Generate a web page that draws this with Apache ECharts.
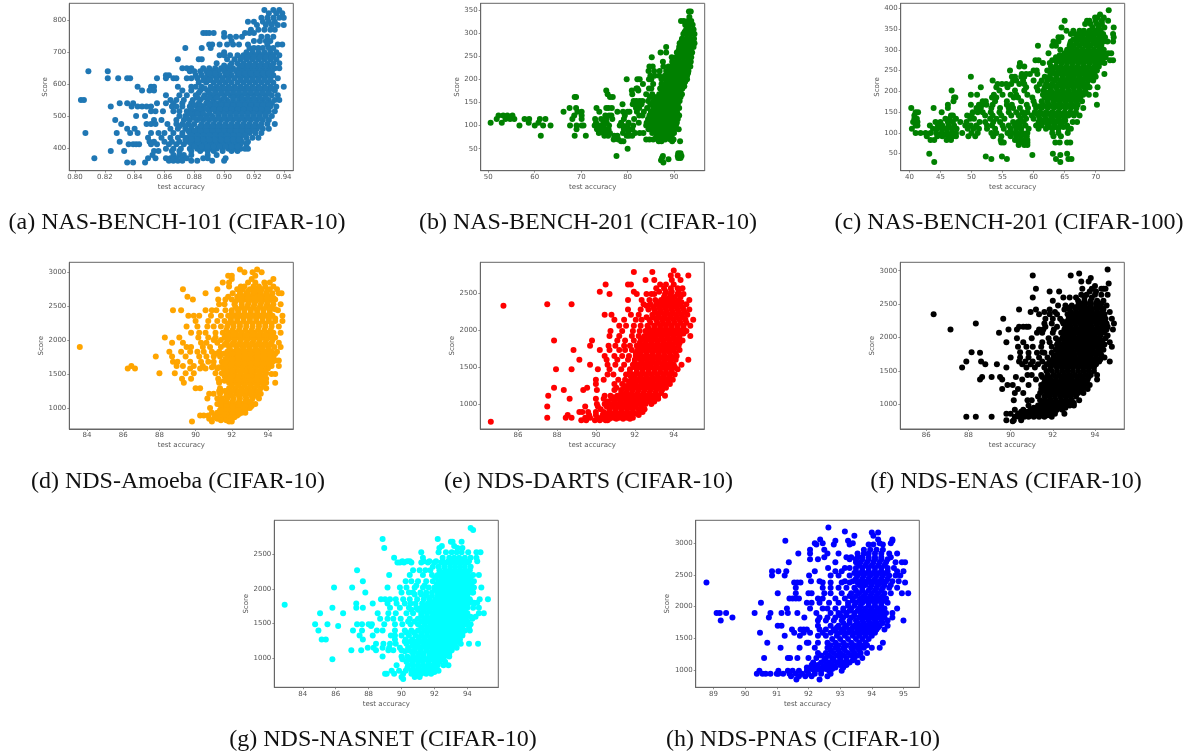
<!DOCTYPE html>
<html><head><meta charset="utf-8">
<script src="https://cdn.jsdelivr.net/npm/echarts@6/dist/echarts.min.js"></script>
<style>html,body{margin:0;padding:0;background:#fff}#c{width:1192px;height:752px}</style></head>
<body><div id="c"></div>
<script>
// each row: [score, accuracy, accuracy, ...]
const rowsA=[[832,.927,.933,.937],[822,.93,.935,.939],[808,.925,.929,.933,.937,.94],[795,.916,.92,.926,.93,.934],[785,.922,.928,.932,.936,.94],[770,.918,.923,.927,.931,.934],[760,.886,.888,.89,.893,.9,.914,.917,.92],[748,.9,.904,.908,.912,.925,.929,.933],[735,.905,.92,.924,.928,.931],[724,.89,.892,.897,.902,.906,.91,.916,.929,.936,.939],[713,.874,.885,.891,.917,.92,.923,.926,.93,.933],[700,.9,.915,.919,.923,.927,.931,.935],[690,.897,.9,.904,.909,.913,.917,.921,.925,.929,.933,.937],[678,.869,.883,.885,.902,.907,.911,.915,.919,.923,.927,.931,.935],[665,.895,.905,.909,.913,.917,.921,.925,.929,.933,.937],[650,.872,.875,.878,.886,.89,.894,.898,.902,.906,.91,.914,.918,.922,.926,.93,.934,.937],[640,.809,.822,.877,.88,.884,.888,.892,.896,.9,.904,.908,.912,.916,.92,.924,.928,.932],[628,.861,.863,.881,.885,.889,.893,.897,.901,.905,.909,.913,.917,.921,.925,.929,.933],[618,.822,.829,.835,.837,.855,.861,.866,.868,.875,.878,.882,.887,.891,.895,.899,.903,.907,.911,.915,.919,.923,.927,.931,.936],[605,.883,.888,.893,.897,.901,.905,.909,.913,.917,.921,.925,.929,.933],[592,.842,.851,.853,.869,.878,.881,.885,.891,.895,.899,.903,.907,.911,.915,.919,.923,.927,.931,.935,.94],[580,.845,.85,.853,.872,.878,.884,.889,.894,.898,.902,.906,.91,.914,.918,.922,.926,.93,.934],[565,.861,.87,.875,.881,.887,.892,.896,.9,.904,.908,.912,.916,.92,.924,.928,.932,.936],[550,.804,.806,.864,.868,.873,.879,.884,.889,.893,.898,.902,.906,.91,.914,.918,.922,.926,.93,.934,.937],[540,.83,.835,.839,.855,.861,.866,.872,.878,.883,.888,.892,.896,.9,.904,.908,.912,.916,.92,.924,.928,.932],[530,.824,.838,.842,.845,.848,.851,.865,.868,.872,.877,.882,.886,.891,.895,.899,.903,.907,.911,.915,.919,.923,.927,.931,.935],[515,.851,.854,.859,.866,.87,.875,.88,.885,.89,.894,.898,.902,.906,.91,.914,.918,.922,.926,.93,.934],[500,.841,.847,.87,.874,.879,.884,.888,.892,.896,.9,.904,.908,.912,.916,.92,.924,.928,.932],[488,.827,.853,.858,.868,.873,.877,.882,.886,.89,.894,.898,.902,.906,.91,.914,.918,.922,.926,.93],[475,.831,.848,.851,.854,.862,.868,.872,.876,.88,.885,.889,.893,.897,.901,.905,.909,.913,.917,.921,.925,.929,.934],[460,.835,.84,.864,.869,.874,.878,.882,.886,.89,.894,.898,.902,.906,.91,.914,.918,.922,.926,.93],[447,.807,.828,.837,.842,.851,.856,.86,.866,.872,.877,.881,.885,.889,.893,.897,.901,.905,.909,.913,.917,.921,.925],[432,.849,.858,.864,.869,.875,.879,.883,.887,.891,.895,.899,.903,.907,.911,.915,.919,.923],[420,.83,.85,.853,.86,.865,.87,.876,.88,.884,.888,.892,.896,.9,.904,.908,.912,.916],[412,.836,.839,.841,.843,.851,.855,.863,.868,.873,.878,.883,.887,.891,.895,.899,.903,.907,.911,.915],[398,.861,.866,.871,.877,.882,.886,.89,.895,.899,.903,.907,.911,.914,.916],[391,.824,.833,.853,.856,.865,.87,.878,.884,.889,.893,.899,.905,.909],[378,.852,.866,.87,.873,.878,.889,.895],[368,.813,.849,.854,.861,.864,.868,.872,.875,.886,.889,.901],[360,.863,.866,.869,.872,.878,.882,.892,.9],[355,.835,.839,.847],
[684,.912,.916,.92,.924,.928,.932],[658,.9,.904,.912,.916,.92,.924,.928,.932],[634,.89,.894,.902,.91,.914,.918,.922,.926,.93],[612,.886,.89,.895,.899,.903,.911,.915,.919,.923,.927,.931],[586,.887,.892,.897,.9,.904,.908,.912,.916,.92,.924,.928,.932],[572,.883,.89,.894,.898,.902,.906,.91,.914,.918,.922,.926,.93],[557,.882,.886,.89,.895,.9,.906,.91,.912,.916,.92,.924,.928],[535,.88,.884,.89,.894,.898,.902,.906,.91,.914,.918,.922,.926,.93],[522,.878,.883,.888,.893,.897,.901,.905,.909,.913,.917,.921,.925,.929],[507,.877,.882,.886,.89,.896,.9,.904,.908,.912,.916,.92,.924,.928],[494,.875,.88,.884,.888,.892,.896,.9,.904,.908,.912,.916,.92,.924],[468,.87,.874,.878,.884,.888,.892,.896,.9,.904,.908,.912,.916,.92,.924],[453,.876,.88,.884,.888,.892,.896,.9,.904,.908,.912,.916,.92],[440,.872,.878,.882,.886,.89,.894,.898,.902,.906,.91,.914],[426,.874,.878,.882,.886,.89,.894,.898,.902,.906,.91],[405,.88,.885,.889,.893,.897,.901,.905,.909]];
const rowsB=[[347,93.2,93.6],[335,93.3],[326,91.5,92.1,93,93.7],[318,92.4,93.2,94],[308,92.6,93.3,94.2],[298,92,92.9,93.7,94.4],[288,91.7,92.6,93.4,94.3],[278,91.2,92.1,93,93.8,94.4],[270,88.3,91.1,92,92.8,93.6,94.2],[258,87.1,88.3,90.6,91.4,92.3,93.1,93.9],[248,85.2,89.5,90.5,91.3,92.1,92.9,93.7],[238,87.6,89.6,90.4,91.2,92,92.8,93.6],[228,84.7,85.4,87.7,88.8,89.6,90.4,91.2,92,92.8,93.5],[218,84.5,85.7,86.9,88.3,89,89.9,90.7,91.5,92.3,93.1],[208,84.9,85.8,86.8,88,88.8,89.6,90.4,91.2,92,92.8],[200,79.8,82.1,82.6,84.6,85.1,87.3,88.1,88.9,89.7,90.5,91.3,92.1,92.8],[190,83.3,85.5,87.3,88.1,88.9,89.7,90.5,91.3,92.1],[180,81.9,82.1,84.6,85.1,87,87.8,88.6,89.4,90.2,91,91.8],[176,75.4,80.9,82.3],[168,75.7,81,84,85.3,86.8,87.7,88.5,89.3,90.1,90.9,91.7],[162,68.6,68.9,76.2,76.8,84.8,85.8,86.6,87.4,88.2,89,89.8,90.6,91.4],[153,81.3,81.9,82.6,83.2,84.4,85.6,86.4,87.2,88,88.8,89.6,90.4,91.2],[146,78.9,81.1,82,83,84.9,86,86.8,87.6,88.4,89.2,90,90.8],[138,67.5,68.9,73.3,75.4,75.9,76.6,81.8,82.5,84.2,85.5,86.3,87.1,87.9,88.7,89.5,90.3,91.1],[130,66.2,69.2,70.1,73.9,77.8,79,80,80.4,82,83.5,85,85.8,86.6,87.4,88.2,89,89.8,90.6],[122,52.2,53.2,54.1,55.2,68.5,70.1,75.2,76,76.5,79.4,82.5,83.2,84.7,85.5,86.3,87.1,87.9,88.7,89.5,90.3,91.1],[114,51.8,53.7,54.7,55.6,57.8,58.8,61.1,62.3,68.1,70.1,73,74.3,75.4,76.7,79.2,81.4,84.4,85.2,86,86.8,87.6,88.4,89.2,90,90.8],[106,50.5,52.9,58.7,60.8,73.2,74.8,75.5,78.6,80.2,82.4,84.1,85,85.8,86.6,87.4,88.2,89,89.8,90.6],[100,56.7,60,61.8,63.4,67.6,69,70.1,70.5,72.9,74,74.8,76,78.3,78.9,80,81.2,84,84.8,85.6,86.4,87.2,88,88.8,89.6,90.4],[92,69,73.4,74.1,75.2,75.9,79.2,80,81,84.5,85.3,86.1,86.9,87.7,88.5,89.3,90.1,91],[84,73.8,74.8,75.6,76.2,79,80.2,81.6,82.6,83.4,85.3,86.1,86.9,87.7,88.5,89.3,90],[78,61.3,68.6,71,75,75.8,77.1,77.8,79.8,80.3,81,86.3,87.1,87.9,88.7,89.5],[70,77,78,84,84.7,85.5,86.5,87.3,88.1,89.2,89.9],[66,78.6,79.1,86.7,87.3,89.6,91.3],[50,80],[40,90.9,91.4],[34,77.6,87.6,90.8,91.2,91.6],[30,87.4,90.9,91.4],[27,88.8],[25,87.2],[20,87.7],
[303,92.3,93.2,94],[283,91.6,92.5,93.4,94.1],[263,91,91.9,92.7,93.5],[253,90.9,91.7,92.5,93.3],[233,90,90.8,91.6,92.4,93.2],[223,89.5,90.3,91.1,91.9,92.7],[213,89.2,90,90.8,91.6,92.4,93],[195,88.5,89.3,90.1,90.9,91.7,92.4],[185,88.2,89,89.8,90.6,91.4,92.2],[172,87.4,88.2,89,89.8,90.6,91.4],[158,87,87.8,88.6,89.4,90.2,91],[142,86.4,87.2,88,88.8,89.6,90.4],[126,85.9,86.7,87.5,88.3,89.1,89.9,90.7],[118,85.6,86.4,87.2,88,88.8,89.6,90.4],[110,85.4,86.2,87,87.8,88.6,89.4,90.2],[96,85,85.9,86.7,87.5,88.3,89.1,89.9],[88,85.7,86.5,87.3,88.1,88.9,89.7],[74,86.1,86.9,87.8,88.6]];
const rowsC=[[395,72.1],[385,70.7],[378,69.9,70.3,71.3],[370,65,68.6,69,70,71,72],[362,68.3,69.2,70.2,71],[354,64.5,69.5,70.5,71.4,72.9],[346,65.3,66.4,67.4,68.1,69,69.9,70.8],[338,66,66.7,67.6,68.5,69.4,70.3,71.2,72.8],[330,64,64.5,67,67.9,68.8,69.7,70.6,71.5,72.9],[320,63.2,64,66,66.9,67.8,68.7,69.6,70.5,71.3,71.9,72.8],[310,60.7,63,63.6,65.8,66.5,67.4,68.3,69.2,70.1,70.9],[300,64.3,65.4,66.2,67,67.9,68.8,69.7,70.6,71.3],[292,62.4,65,65.9,66.7,67.6,68.5,69.4,70.3,71.2,72,72.5],[282,63.6,64.6,65.4,66.3,67.2,68.1,69,69.9,70.8,71.6],[275,60.3,60.8,63,64.1,65,65.9,66.8,67.7,68.6,69.5,70.4,71,72.3,72.8],[268,57.8,61.5,62.6,64.5,65.4,66.3,67.2,68.1,69,69.9,70.6,71.4],[260,57.7,58.5,62.8,63.6,64.4,65.3,66.2,67.1,68,68.9,69.8,70.5],[250,56.2,60,60.5,62.2,63,64,64.9,65.8,66.7,67.6,68.5,69.4,70.2],[242,58.1,58.8,59.4,60.6,62.7,63.5,64.5,65.4,66.3,67.2,68.1,69,69.8,71.4],[235,49.9,56.5,57,58,58.5,61.8,62.6,63.7,64.7,65.6,66.5,67.4,68.3,69.2,70],[226,53.4,56.7,57.2,58.3,60,61.3,62.2,63.4,64.3,65.2,66.1,67,67.9,68.8,69.6],[218,54.2,54.9,55.6,56.4,57.7,58.5,61,62,63,64,64.9,65.8,66.7,67.6,68.5],[210,51.5,54,55.8,58.8,60.5,61.8,62.6,63.6,64.6,65.5,66.4,67.3,68.2,69,70.3],[202,46.8,54.5,57,58.5,60.7,61.6,62.8,63.8,64.7,65.6,66.5,67.4,68.3],[192,49.9,50.9,53.6,55,56.3,57.2,59,61.5,62.5,63.4,64.4,65.3,66.2,67.1,68,68.9,70],[185,47.2,47.4,53.3,54,56.8,57.5,59.8,61.8,62.9,63.9,64.8,65.7,66.6,67.5],[176,47.1,51.8,52.3,53.8,55.7,58,60,61.3,62.2,63.2,64.2,65.1,66,66.9,67.8],[168,46.2,49.9,51.2,51.7,52.4,53.4,55.7,56.5,58.9,60.2,61.5,62.5,63.5,64.4,65.3,66.2,67.1,70.2],[160,40.3,43.9,46.2,50.8,51.5,53.2,54.6,56,56.7,57.8,59.1,60.4,61.3,62.3,63.3,64.2,65.1,66,66.9,68],[150,41,41.4,45.2,50.2,51,51.8,53.1,54.5,56,57.2,58.2,59,60.2,61,62,63,64,65,65.9,66.8],[142,40.8,46.7,47,49.3,50,52.2,53.4,54.8,56.4,57.6,58.5,59.7,60.8,61.8,62.8,63.7,64.7,65.6,66.5,67.4],[134,40.8,41.2,45.8,46.5,47.5,49.8,50.4,53,54,55.3,57.9,58.8,60,61,62,63,64,65],[126,40.6,41.3,44.2,45,46.2,47,48.2,49.2,51.3,52.2,53.5,54.6,56.7,57.5,58.4,60.8,61.8,62.7,63.7,64.7,66.3,67],[118,41,41.3,43.3,44.6,45.3,46.3,47.2,49,49.9,50.8,52.5,53.3,55,56,57,57.8,58.7,60.4,61.3,62.3,63.3,64.3,65.4],[110,40.4,43.8,44.5,45.3,46,46.8,47.6,49.4,50.3,51.2,52.5,53.8,55.2,56.3,57.2,58,59.2,60.8,62,63,64,65.6,66],[100,41,41.8,42.6,43.4,44.3,45.2,46,46.8,47.5,48.5,50,51,53.2,54,55.8,56.6,57.4,58.2,59,63,64,65.5],[92,42.8,44.5,45.3,46.2,47,47.5,49.5,50.6,53.5,54.8,56.3,57.2,58,58.9,63.2,64.4],[83,43.4,44,46,46.7,54.7,57,57.8,58.6,59],[77,54.8,55.2,57.6,58.2,59,63.5,64.2,65.4,65.9],[71,57.6,58.5,59],[50,43.2,63.1,65.4],[47,59.8,64.3],[43,52.3,54.9],[37,53.2,55.7,63.6,65.6,66.1],[30,44,64.3],
[342,68,68.9,69.8,70.7],[325,66.4,67.3,68.2,69.1,70,70.9],[315,65.9,66.9,67.8,68.7,69.6,70.5],[296,65.4,66.3,67.2,68.1,69,69.9,70.8],[287,64.2,65.1,66,66.9,67.8,68.7,69.6,70.5],[271,63.7,64.6,65.5,66.4,67.3,68.2,69.1,70],[255,63.2,64.1,65,65.9,66.8,67.7,68.6,69.5],[246,63.9,64.8,65.7,66.6,67.5,68.4,69.3],[230,62.8,63.6,64.6,65.5,66.4,67.3,68.2,69.1],[214,62.3,63.2,64.2,65.1,66,66.9,67.8,68.7],[197,62.1,63,63.9,64.8,65.7,66.6,67.5,68.4],[180,62.3,63.4,64.3,65.2,66.1,67],[164,61,62,63,63.9,64.8,65.7,66.6],[146,60.5,61.4,62.4,63.4,64.3,65.2,66.1],[130,61.3,62.3,63.2,64.2,65.1],[114,62.5,63.5,64.8]];
const rowsD=[[3040,92.45,93.4],[3000,92.7,93.15,93.65],[2950,91.8,92,93.3],[2900,92,93.1,94.3],[2850,91.5,91.85,92.9,93.3,93.8,94.1],[2790,91.85,92.5,92.7,93.2,93.5,93.85,94.3],[2750,89.3,91.2,92.3,92.6,93,93.35,93.65,94.1,94.5],[2690,90.55,92.05,92.45,92.8,93.2,93.55,93.9,94.25,94.6,94.75],[2640,89.55,91.8,92.3,92.7,93.05,93.4,93.75,94.1],[2600,89.85,91.25,91.65,92,92.4,92.75,93.1,93.45,93.8,94.15,94.4],[2530,91.3,91.6,92.15,92.55,92.9,93.25,93.6,93.95,94.3,94.7],[2440,88.75,89.2,90.55,90.9,91.15,91.65,92,92.35,92.7,93.05,93.4,93.75,94.1,94.55],[2360,89.6,89.9,90.2,90.85,91.4,91.8,92.15,92.5,92.85,93.2,93.55,93.9,94.25,94.8],[2280,90,90.7,91.2,91.6,91.95,92.3,92.65,93,93.35,93.7,94.05,94.4,94.8],[2200,89.5,90.1,90.65,91,91.4,91.75,92.1,92.45,92.8,93.15,93.5,93.85,94.2,94.6],[2110,89.75,90.2,90.55,91.1,91.5,91.85,92.2,92.55,92.9,93.25,93.6,93.95,94.3,94.7],[2040,88.3,89.1,90.15,90.7,91.1,91.6,91.95,92.3,92.65,93,93.35,93.7,94.05,94.4],[1960,88.7,89.3,90.3,90.6,91.2,91.7,92.1,92.45,92.8,93.15,93.5,93.85,94.2,94.6],[1900,83.6,89.5,89.75,90.4,90.8,91.4,91.85,92.25,92.6,92.95,93.3,93.65,94,94.35,94.7],[1830,88.55,89.2,89.7,90.1,90.45,90.9,91.3,91.75,92.1,92.45,92.8,93.15,93.5,93.85,94.2,94.5],[1760,87.8,88.7,89.45,90.2,90.6,91,91.35,91.8,92.2,92.55,92.9,93.25,93.6,93.95,94.3],[1680,88.75,89,89.7,90.3,90.7,91,91.45,91.85,92.2,92.55,92.9,93.25,93.6,93.95,94.25],[1620,86.45,88.95,89.3,89.9,90.4,91,91.5,91.8,92.15,92.5,92.85,93.2,93.55,93.9,94.2,94.6],[1580,86.25,86.65,89.7,90.25,90.55,91.2,91.55,91.9,92.25,92.6,92.95,93.3,93.65,94],[1510,88,88.85,89.45,89.9,91.1,91.45,91.8,92.15,92.5,92.85,93.2,93.55,93.9],[1430,89.25,89.75,91.25,91.8,92.15,92.5,92.85,93.2,93.55,93.9],[1370,89.35,91.3,91.85,92.2,92.55,92.9,93.25,93.6,93.9,94.4],[1290,90,90.25,91.35,91.85,92.2,92.55,92.9,93.25,93.6,93.9],[1210,90.75,91,91.35,91.9,92.25,92.6,92.95,93.3,93.6],[1140,90.65,91.2,91.45,91.75,92.1,92.45,92.8,93.15,93.5],[1060,91.2,91.55,91.9,92.25,92.6,92.95,93.3],[1000,90.8,91.5,91.85,92.2,92.55,92.85,93],[930,90.9,91.2,91.55,91.9,92.25,92.55,92.75],[890,90.25,90.45,90.7,91.1,91.45,91.8,92.1,92.3],[840,90.75,91.2,91.5,91.8,92],[800,89.8,90.9,91.85,92],
[2670,92.5,92.9,93.25,93.6,93.95],[2570,92.2,92.55,92.95,93.3,93.65,94],[2490,92.2,92.55,92.85,93.2,93.55,93.9,94.2],[2400,92,92.35,92.7,93.05,93.4,93.75,94.1],[2320,91.95,92.3,92.65,93,93.35,93.7,94.05,94.4],[2240,91.8,92.1,92.45,92.8,93.15,93.5,93.85,94.2],[2150,91.7,92.05,92.4,92.75,93.1,93.45,93.8,94.15],[2075,91.75,92.1,92.45,92.8,93.15,93.5,93.85,94.2],[2000,91.8,92.15,92.5,92.85,93.2,93.55,93.9,94.25],[1930,91.6,92,92.35,92.7,93.05,93.4,93.75,94.1],[1865,91.9,92.3,92.65,93,93.35,93.7,94.05],[1795,92,92.35,92.7,93.05,93.4,93.75,94.1],[1720,91.65,92,92.35,92.7,93.05,93.4,93.75,94.1],[1650,91.6,92,92.35,92.7,93.05,93.4,93.75,94.05],[1545,91.7,92.05,92.4,92.75,93.1,93.45,93.8],[1470,91.6,92,92.35,92.7,93.05,93.4,93.75],[1400,91.95,92.35,92.7,93.05,93.4,93.75],[1330,92,92.35,92.7,93.05,93.4,93.75],[1250,91.7,92.05,92.4,92.75,93.1,93.45],[1175,91.7,92,92.4,92.75,93.1,93.4],[1100,91.4,91.7,92.05,92.4,92.75,93.05],[1030,91.4,91.7,92.05,92.4,92.75,93.1],[965,91.35,91.7,92.05,92.4,92.7],[910,91.35,91.7,92.05,92.4],[865,91.05,91.35,91.65,91.95,92.15],[820,91.4,91.7,91.95],
[2720,92.9,93.25,93.6,93.95],[2620,92.55,92.9,93.25,93.6,93.95,94.3],[2455,92.35,92.7,93.05,93.4,93.75,94.1,94.4],[2360,92,92.35,92.7,93.05,93.4,93.75,94.1],[2000,91,91.4],[1800,91.1,91.55,94.4],[1700,94.45,94.6],[1600,90.9,91.3],[1500,94.2,94.4],[1400,91.3,91.6],[1250,91.3,91.6]];
const rowsE=[[2810,94],[2790,91.95,92.9],[2740,93.85,94.75,94.2],[2680,92.55,93,93.9,94.35],[2620,90.5,91.65,91.8,93.3,93.6,94],[2570,93.1,93.5,93.85,94.2,94.45],[2520,90.2,91.95,93.25,93.6,93.9,94.25],[2490,90.7,92.1,92.6,92.85,93,93.55,93.85,94.2,94.5],[2410,91.65,92.35,92.75,93.05,93.35,93.65,93.95,94.25,94.8],[2350,87.5,88.75,92.45,92.8,93.1,93.4,93.7,94,94.3,94.65],[2330,85.25,92.6],[2280,91.65,92.3,92.7,93,93.3,93.6,93.9,94.2,94.5,94.8],[2210,90.45,91.8,90.8,92.2,92.9,93.2,93.5,93.8,94.1,94.4,94.7],[2140,90.95,91.45,92.05,92.35,92.75,93.1,93.4,93.7,94,94.3,94.6,95],[2060,91.2,91.55,91.95,92.3,92.65,93,93.3,93.6,93.9,94.2,94.5,94.85],[1990,90.75,91.35,91.9,92.25,92.55,92.85,93.15,93.45,93.75,94.05,94.35,94.65],[1920,90.7,91.2,91.85,92.2,92.5,92.8,93.1,93.4,93.7,94,94.3,94.85],[1860,87.85,89.8,91.1,91.5,91.95,92.3,92.6,92.9,93.2,93.5,93.8,94.1,94.45],[1790,89.7,90.65,91,91.45,91.75,92.1,92.4,92.7,93,93.3,93.6,93.9,94.25],[1730,88.85,90.2,90.7,91.2,91.5,91.85,92.15,92.45,92.75,93.05,93.35,93.65,93.95,94.3],[1650,90.45,90.95,91.35,91.7,92.05,92.35,92.65,92.95,93.25,93.55,93.85,94.15],[1600,89.15,90.55,91.1,91.65,92,92.3,92.6,92.9,93.2,93.5,93.8,94.1,94.75],[1530,89.7,90.6,91,91.45,91.9,92.2,92.5,92.8,93.1,93.4,93.7,94,94.4],[1470,87.95,88.75,90.1,90.7,91.3,91.75,92.1,92.4,92.7,93,93.3,93.6,93.9,94.2],[1400,90.6,90.9,91.55,91.95,92.25,92.55,92.85,93.15,93.45,93.75,94.05],[1330,90,90.4,91.15,91.5,91.85,92.15,92.45,92.75,93.05,93.35,93.65,93.95],[1270,90,90.95,91.35,91.75,92.05,92.35,92.65,92.95,93.25,93.55,93.8],[1220,87.85,89.55,91.05,91.45,91.8,92.1,92.4,92.7,93,93.3,93.6],[1190,88.35,89.35,90.05,90.95,91.3,91.6,91.9,92.2,92.5,92.8,93.1,93.4],[1110,87.55,90.45,90.75,91.1,91.4,91.7,92,92.3,92.6,92.9,93.2,93.55],[1070,88.65,90,90.4,90.8,91.1,91.4,91.7,92,92.3,92.6,92.9,93.2],[1000,90.05,90.45,90.75,91.05,91.35,91.65,91.95,92.25,92.55,92.85],[965,87.5,89.45,90.1,90.55,90.85,91.15,91.45,91.75,92.05,92.35],[890,89.15,89.3,89.6,90,90.4,90.7,91,91.3,91.6,91.9,92.25,92.4],[850,88.55,89.65,90,90.35,90.65,90.95,91.25,91.55,91.85,92.2],[815,87.5,88.45,88.75,89.45,89.7,90.1,90.5,90.9,91.2,91.6,91.9],[780,89.25,89.5,89.95,90.2,90.5,90.6],[760,84.6],
[2450,93.5,93.8,94.05,94.35],[2380,93.2,93.5,93.8,94.1,94.4],[2310,92.95,93.25,93.55,93.85,94.15,94.45],[2245,93.05,93.35,93.65,93.95,94.25,94.55],[2175,92.6,92.95,93.25,93.55,93.85,94.15,94.45],[2100,92.8,93.15,93.45,93.75,94.05,94.35,94.65],[2025,92.7,93,93.3,93.6,93.9,94.2,94.5],[1955,92.65,92.95,93.25,93.55,93.85,94.15,94.5],[1890,92.4,92.75,93.05,93.35,93.65,93.95,94.25],[1825,92.25,92.55,92.85,93.15,93.45,93.75,94.05,94.3],[1760,92.25,92.55,92.85,93.15,93.45,93.75,94.05],[1690,92.05,92.3,92.6,92.9,93.2,93.5,93.8,94.1],[1625,92.15,92.45,92.75,93.05,93.35,93.65,93.95],[1565,92,92.35,92.65,92.95,93.25,93.55,93.85],[1500,91.95,92.25,92.55,92.85,93.15,93.45,93.75,94.05],[1435,91.75,92.1,92.4,92.7,93,93.3,93.6,93.9],[1365,91.8,92,92.3,92.6,92.9,93.2,93.5,93.8],[1300,91.7,92,92.3,92.6,92.9,93.2,93.5,93.75],[1245,91.55,91.9,92.25,92.55,92.85,93.15,93.45],[1150,91.3,91.55,91.85,92.15,92.45,92.75,93.05,93.35],[1090,90.9,91.25,91.55,91.85,92.15,92.45,92.75,93.05],[1035,90.6,90.95,91.25,91.55,91.85,92.15,92.45,92.75,93],[930,90.25,90.7,91,91.3,91.6,91.9,92.2,92.5],[870,90.5,90.8,91.1,91.4,91.7,92],[800,90.3,90.7,91.05,91.4,91.75]];
const rowsF=[[3020,94.6],[2960,93.25],[2930,91.05,92.85],[2890,93.8],[2840,93.35,93.7],[2810,94.65],[2770,94],[2730,91.2,93.4,93.85,94.3,94.4,94.5],[2690,91.85,92.3,93.75,94.05],[2640,93.35,93.6,94,94.3,94.6],[2600,91.05,92.5,92.8,93.1,93.5,93.85],[2550,92,93.2,93.5,93.8,94.1,94.4],[2480,92.25,92.6,92.9,93.2,93.5,93.8,94.1,94.55],[2420,90.4,91.2,91.85,92.55,92.8,93.1,93.35,93.6,93.85,94.1,94.4],[2380,90.95,91.6,92.1,92.85,93.1,93.35,93.6,93.85,94.1,94.35,94.7],[2350,86.35,91.35,91.85,92.2,92.7,92.95,93.2,93.45,93.7,93.95,94.2,94.45],[2280,89.65,91.65,92,92.35,92.75,93,93.25,93.5,93.75,94,94.25,94.5,94.8],[2210,88.35,91.6,91.95,92.5,92.8,93.05,93.3,93.55,93.8,94.05,94.3,94.55,94.9],[2160,90.4,90.6,90.75,90.85,91.65,92.2,92.6,92.85,93.1,93.35,93.6,93.85,94.1,94.35,94.6],[2120,87.15,89.9,90.3,91.35,91.55,92.05,92.55,92.8,93.05,93.3,93.55,93.8,94.05,94.3,94.55,94.85],[2070,89.45,91.25,91.5,92,92.4,92.7,92.95,93.2,93.45,93.7,93.95,94.2,94.45],[1990,90.3,91,91.8,92.15,92.45,92.7,92.95,93.2,93.45,93.7,93.95,94.2,94.5],[1930,89.8,90.6,91.5,91.85,92.25,92.55,92.8,93.05,93.3,93.55,93.8,94.05,94.3,94.7],[1860,90.35,90.75,91.05,91.45,91.95,92.3,92.55,92.8,93.05,93.3,93.55,93.8,94.05,94.3,94.8],[1770,88.55,90.85,91.25,91.6,91.95,92.25,92.5,92.75,93,93.25,93.5,93.75,94,94.25],[1780,88.15,90.45,91.5],[1700,90,90.45,90.85,91.35,91.75,92.05,92.3,92.55,92.8,93.05,93.3,93.55,93.8,94.05,94.45],[1640,87.9,88.6,90.4,90.7,91.05,91.5,91.85,92.15,92.4,92.65,92.9,93.15,93.4,93.65,93.9,94.2,94.7],[1600,88.8,89.35,90.55,90.95,91.3,91.7,92,92.3,92.55,92.8,93.05,93.3,93.55,93.8,94.05],[1550,87.7,89.8,90.75,91.15,91.6,91.9,92.2,92.45,92.7,92.95,93.2,93.45,93.7,93.95],[1440,90.8,91,91.45,91.75,92.05,92.3,92.55,92.8,93.05,93.3,93.55,93.8,94.1],[1410,88.65,89.1,89.5,90.25,91.5,91.85,92.15,92.4,92.65,92.9,93.15,93.4,93.7],[1370,88.55,89.6,90.55,91.2,91.65,91.9,92.15,92.4,92.65,92.9,93.15,93.4,93.65,94.1],[1290,89.85,90.1,90.85,91.45,91.75,92,92.25,92.5,92.75,93,93.25,93.5,93.75],[1230,89.6,90.35,91.45,91.65,91.9,92.15,92.4,92.65,92.9,93.15,93.4,93.65],[1170,90.2,90.6,91.4,91.7,91.95,92.2,92.45,92.7,92.95,93.2,93.45],[1060,90.15,90.8,91,91.4,91.65,91.9,92.15,92.4,92.65,92.9,93.25],[980,90.85,91.3,91.55,91.8,92.05,92.3,92.55,92.8,93],[920,90.2,90.6,90.95,91.2,91.45,91.7,91.95,92.2,92.45],[860,89.8,90,90.35,90.6,90.85,91.1,91.35,91.6,91.85,92.1,92.55],[815,87.9,88.35,89.1,90.2,90.4,90.65,90.85,91.1,91.35,91.6,91.95],[760,89.8,90.15,90.5],[745,90.1],
[2510,93.3,93.55,93.8,94.05,94.3],[2450,92.8,93.05,93.3,93.55,93.8,94.05,94.3],[2320,92.9,93.15,93.4,93.65,93.9,94.15,94.4],[2245,92.45,92.7,92.95,93.2,93.45,93.7,93.95,94.2,94.45],[2090,92.55,92.8,93.05,93.3,93.55,93.8,94.05,94.3],[2030,92.5,92.75,93,93.25,93.5,93.75,94,94.25,94.6],[1960,92.3,92.6,92.85,93.1,93.35,93.6,93.85,94.1,94.35],[1895,92.2,92.45,92.7,92.95,93.2,93.45,93.7,93.95,94.2,94.45],[1815,92.15,92.4,92.65,92.9,93.15,93.4,93.65,93.9,94.15,94.4],[1735,92.05,92.3,92.55,92.8,93.05,93.3,93.55,93.8,94.05,94.3],[1670,92,92.25,92.5,92.75,93,93.25,93.5,93.75,94,94.25],[1575,91.9,92.15,92.4,92.65,92.9,93.15,93.4,93.65,93.9],[1500,91.7,91.95,92.2,92.45,92.7,92.95,93.2,93.45,93.7,93.95],[1330,91.6,91.85,92.1,92.35,92.6,92.85,93.1,93.35,93.6],[1260,91.65,91.9,92.15,92.4,92.65,92.9,93.15,93.4],[1200,91.55,91.8,92.05,92.3,92.55,92.8,93.05,93.3],[1115,91.3,91.6,91.85,92.1,92.35,92.6,92.85,93.1],[1020,91.5,91.75,92,92.25,92.5,92.75,93],[950,91.1,91.35,91.6,91.85,92.1,92.35,92.6],[890,90.5,90.8,91.1,91.35,91.6,91.85,92.1],[835,90.5,90.75,91,91.25,91.5,91.75]];
const rowsG=[[2880,94.2],[2850,94.35],[2720,88.85,92.2],[2680,93,93.1,93.65],[2620,92.45,93.2],[2590,88.95,92.3,93.4,93.7],[2530,91.2,92.25,92.7,93.05,93.35,93.65,94.05,94.55,94.8],[2450,89.55,91.3,92.5,92.9,93.2,93.5,93.85,94.2,94.55],[2400,90.05,90.35,90.5,91.35,91.7,92.1,92.5,92.85,93.15,93.45,93.75,94.1,94.6],[2380,89.75,89.9,90.15,90.6,91.2,91.6,92,92.4,92.75,93.05,93.35,93.65,94],[2270,87.3,90.7,91.1,91.45,91.75,92.3,92.65,92.95,93.25,93.55,93.85,94.15],[2200,89.25,90.5,91.3,91.85,92.2,92.55,92.85,93.15,93.45,93.75,94.05,94.35,94.7],[2110,87.65,90.25,90.6,91,91.5,91.9,92.25,92.55,92.85,93.15,93.45,93.75,94.05,94.4],[2020,85.9,87,89.15,89.9,90.3,90.8,91.3,91.65,92,92.3,92.6,92.9,93.2,93.5,93.8,94.1,94.4,94.85],[1950,87.8,90,90.45,90.7,91.15,91.5,91.85,92.2,92.5,92.8,93.1,93.4,93.7,94,94.35],[1850,88.75,89,89.3,89.65,90.1,90.5,90.95,91.35,91.7,92.05,92.35,92.65,92.95,93.25,93.55,93.85,94.15,94.75,95.25],[1790,87.25,88.25,89.15,89.7,90.2,90.55,90.85,91.25,91.6,91.95,92.25,92.55,92.85,93.15,93.45,93.75,94.05,94.4],[1730,85.8,87.25,87.65,89.3,89.9,90.45,90.9,91.2,91.55,91.9,92.2,92.5,92.8,93.1,93.4,93.7,94,94.35,94.7],[1770,82.9],[1650,85.05,86.45,88.55,89.2,89.65,90.3,90.7,91.2,91.55,91.9,92.2,92.5,92.8,93.1,93.4,93.7,94,94.7,95],[1570,88.7,89.15,89.5,89.95,90.5,91,91.4,91.75,92.05,92.35,92.65,92.95,93.25,93.55,93.85,94.3],[1490,84.75,85.5,87.3,87.6,88,88.2,88.95,89.6,90.05,90.55,91,91.4,91.75,92.05,92.35,92.65,92.95,93.25,93.55,93.85,94.2],[1465,86.15,88.15],[1400,84.95,87.05,87.6,88.5,88.85,89.6,90.2,90.6,91,91.4,91.75,92.05,92.35,92.65,92.95,93.25,93.55,93.85,94.15],[1330,87.45,88.25,89.35,89.6,90,90.45,90.85,91.2,91.55,91.9,92.2,92.5,92.8,93.1,93.4,93.7],[1270,85.15,85.4,87.65,89.6,90.25,90.65,91.05,91.4,91.75,92.05,92.35,92.65,92.95,93.25,93.55],[1210,88.45,88.9,89.3,89.65,90.3,90.7,91,91.4,91.75,92.05,92.35,92.65,92.95,93.25,93.6,94.1,94.65],[1150,87.95,88.3,88.85,89.25,89.9,90.4,90.85,91.2,91.55,91.85,92.15,92.45,92.75,93.05,93.35],[1115,86.95,87.55,88.45,89.2,89.5,90,90.45,90.8,91.15,91.5,91.85,92.15,92.45,92.75,93.05],[1025,88.85,90,90.35,90.7,91,91.35,91.7,92,92.3,92.6,92.9],[985,85.8,90.05,90.45,90.8,91.15,91.5,91.85,92.2,92.5],[900,89.7,90.4,90.7,91,91.3,91.6,91.9,92.2,92.55,92.85],[820,89.4,89.85,90.25,90.6,90.95,91.25,91.6,91.95,92.25],[775,89,89.1,89.55,90.1,90.6,90.85,91.2,91.5,91.8],[730,90,90.8,91.1],[700,90.1],
[2240,92.4,92.7,93,93.3,93.6,93.9],[2160,92.05,92.4,92.7,93,93.3,93.6,93.9,94.2],[2065,92.15,92.45,92.75,93.05,93.35,93.65,93.95,94.25],[1990,92,92.35,92.65,92.95,93.25,93.55,93.85,94.15],[1900,91.5,91.85,92.2,92.5,92.8,93.1,93.4,93.7,94],[1820,91.75,92.1,92.4,92.7,93,93.3,93.6,93.9,94.2],[1760,91.4,91.75,92.1,92.4,92.7,93,93.3,93.6,93.9],[1690,91.35,91.7,92.05,92.35,92.65,92.95,93.25,93.55,93.85],[1610,91.2,91.55,91.9,92.2,92.5,92.8,93.1,93.4,93.7,94],[1530,91.2,91.55,91.9,92.2,92.5,92.8,93.1,93.4,93.7,94],[1445,91.2,91.55,91.9,92.2,92.5,92.8,93.1,93.4,93.7],[1365,91.2,91.55,91.9,92.2,92.5,92.8,93.1,93.4,93.7],[1300,91.05,91.4,91.75,92.05,92.35,92.65,92.95,93.25],[1240,90.9,91.25,91.6,91.9,92.2,92.5,92.8,93.1,93.4],[1180,90.65,91,91.35,91.7,92,92.3,92.6,92.9,93.2],[1070,90.7,91.05,91.35,91.7,92,92.3,92.6,92.9],[950,90.3,90.65,91,91.3,91.65,92,92.3,92.65],[860,90.35,90.7,91.05,91.4,91.75,92.05],[800,90.7,91,91.35,91.65,92],
[2320,91.9,92.25,92.6,92.95,93.25,93.55,93.85,94.2],[2050,90.9,91.4],[1950,94.3],[1920,90.8,91.2],[1800,94.4,94.6],[1700,90.6,91],[1600,94.2,94.5],[1530,90.4,90.8],[1450,94.1],[1370,90.3,90.75],[1240,90.2,90.55],[1100,90.2,90.6]];
const rowsH=[[3250,92.63],[3185,93.15],[3170,94,94.2],[3120,93.45,94.05],[3060,92.37,94.2,94.65],[3040,91.27,93.25,92.85,94.65],[3000,92.2,92.45,93.4,94.25,94.6],[2980,92.25,92.8,93.3,93.9,94.05,94.35],[2900,92.05,92.5,93.75,93.95,94.15,94.35],[2840,91.68,92.05,92.6,92.95,93.55,93.75,93.9,94.1,94.3,94.55,94.8],[2780,92.5,93.2,93.35,93.55,93.7,93.9,94.1,94.3,94.6],[2750,92.05,92.3,93.3,93.5,93.7,93.9,94.1,94.3,94.5],[2700,91.38,92.85,93.5,93.65,93.85,94.05,94.25,94.45,94.75,94.95,95.05],[2610,92.62,93.15,93.3,93.5,93.7,93.9,94.1,94.3,94.5,94.7],[2560,90.85,91.05,91.3,92.2,92.85,93.05,93.5,93.7,93.9,94.1,94.3,94.5,94.8,95],[2490,90.85,91.25,92.02,92.7,92.95,93.3,93.55,93.75,93.95,94.15,94.35,94.55,94.75,94.9],[2400,92.08,92.35,93.15,93.4,93.65,93.85,94.05,94.25,94.45,94.65,94.85],[2380,88.78,91.55,91.65,91.75,92.45,92.7,93.05,93.3,93.55,93.75,93.95,94.15,94.35,95.05],[2300,91.6,92.45,92.7,92.95,93.2,93.45,93.7,93.95,94.15,94.35,94.55,94.8],[2210,91.03,91.6,92,92.1,92.5,92.7,93.05,93.35,93.6,93.8,94,94.2,94.4,94.6,95.15,94.95],[2130,91.4,91.5,91.6,91.7,92.3,92.45,92.85,93.15,93.4,93.65,93.85,94.05,94.25,94.45],[2060,90.5,91.95,92.1,92.35,92.65,92.95,93.25,93.5,93.7,93.9,94.1,94.3,94.5],[1970,91.32,92.05,92.45,92.6,92.85,93.1,93.35,93.6,93.8,94,94.2,94.4,94.8],[1900,89.1,89.2,89.4,90.3,90.8,91.15,91.35,91.65,92.25,92.7,92.95,93.2,93.45,93.65,93.85,94.05,94.25,94.45,94.65],[1830,89.6,90.75,91.87,92.35,92.6,92.85,93.1,93.35,93.6,93.8,94,94.2,94.4,94.65],[1780,89.23,92.3,92.55,92.8,93.05,93.3,93.5,93.7,93.9,94.1,94.3,94.5,95],[1700,91.03,91.15,92.3,92.7,92.95,93.2,93.45,93.65,93.85,94.05,94.25,94.5],[1640,91.48,91.75,91.85,91.95,92.35,92.55,92.8,93.05,93.3,93.55,93.75,93.95,94.15,94.4],[1590,90.47,91.55,91.85,92.05,92.45,92.7,93,93.25,93.5,93.7,93.9,94.1],[1540,91.25,91.73,92.3,92.55,92.9,93.15,93.4,93.6,93.8,94],[1430,90.7,91.95,92,92.3,92.6,92.85,93.1,93.35,93.6,93.8,94.35],[1350,91.12,91.72,92.2,92.6,92.85,93.1,93.35,93.55,93.75,94,94.25],[1270,92.3,92.55,92.8,93,93.25,93.45,93.65,93.85],[1190,90.6,91.35,91.42,91.65,92,92.25,92.55,92.75,93,93.2,93.45,93.7],[1120,92.15,92.4,92.65,92.9,93.1,93.3,93.55],[1040,91.95,92.2,92.45,92.65,92.85,93.1],[990,90.45,91.05,91.35,91.5,91.7,91.95,92.2,92.4,92.65,93.05],[940,90.37,90.55,90.65,90.8,91,91.05,91.2,91.4,91.6,91.8,92,92.2,92.4,92.7],[900,91.45,91.7,91.9,92.1,92.6],[850,91.62,92.35],
[2650,93.6,93.8,94,94.2,94.4],[2530,93.45,93.65,93.85,94.05,94.25,94.45],[2440,93.5,93.7,93.9,94.1,94.3,94.5],[2340,93.6,93.8,94,94.2,94.4,94.6],[2255,93.5,93.7,93.9,94.1,94.3],[2170,93.3,93.5,93.75,93.95,94.15,94.35],[2095,93.4,93.6,93.8,94,94.2,94.4],[2015,93.25,93.45,93.65,93.9,94.1,94.3],[1935,93.1,93.3,93.55,93.75,93.95,94.15,94.35],[1865,93,93.2,93.45,93.7,93.9,94.1,94.3],[1740,93.1,93.3,93.55,93.75,93.95,94.15,94.35],[1670,92.9,93.15,93.4,93.6,93.8,94,94.2],[1615,92.85,93.1,93.35,93.6,93.8,94],[1490,92.75,93,93.25,93.5,93.7,93.9],[1390,92.7,92.95,93.2,93.45,93.65,93.85],[1310,92.7,92.95,93.15,93.4,93.6],[1230,92.4,92.65,92.9,93.1,93.35,93.55],[1155,92.5,92.8,93,93.2,93.4],[1080,92.1,92.3,92.55,92.75,93,93.2],[1015,92.1,92.3,92.55,92.75]];
const captions=["(a) NAS-BENCH-101 (CIFAR-10)","(b) NAS-BENCH-201 (CIFAR-10)","(c) NAS-BENCH-201 (CIFAR-100)","(d) NDS-Amoeba (CIFAR-10)","(e) NDS-DARTS (CIFAR-10)","(f) NDS-ENAS (CIFAR-10)","(g) NDS-NASNET (CIFAR-10)","(h) NDS-PNAS (CIFAR-10)"];
const xTicksA=[.80,.82,.84,.86,.88,.90,.92,.94], yTicksA=[400,500,600,700,800];
const xTicksB=[50,60,70,80,90], yTicksB=[50,100,150,200,250,300,350];
const xTicksC=[40,45,50,55,60,65,70], yTicksC=[50,100,150,200,250,300,350,400];
const xTicksD=[84,86,88,90,92,94], yTicksD=[1000,1500,2000,2500,3000];
const xTicksE=[86,88,90,92,94], yTicksE=[1000,1500,2000,2500];
const xTicksF=[86,88,90,92,94], yTicksF=[1000,1500,2000,2500,3000];
const xTicksG=[84,86,88,90,92,94], yTicksG=[1000,1500,2000,2500];
const xTicksH=[89,90,91,92,93,94,95], yTicksH=[1000,1500,2000,2500,3000];

const panels=[
 {rows:rowsA,color:'#1f77b4',box:[69.3,3.3,224,167.4],x:[.7962,.9464],y:[329,853],xt:xTicksA,yt:yTicksA,dp:2,cap:[177,222.5],gap:19},
 {rows:rowsB,color:'#008000',box:[480.7,3.3,224,167.4],x:[48.36,96.6],y:[2.4,364.5],xt:xTicksB,yt:yTicksB,dp:0,cap:[588,222.5],gap:19},
 {rows:rowsC,color:'#008000',box:[900.7,3.3,224,167.4],x:[38.6,74.67],y:[9,412],xt:xTicksC,yt:yTicksC,dp:0,cap:[1009,222.5],gap:19},
 {rows:rowsD,color:'#ffa500',box:[69.3,262.3,224,166.7],x:[83.02,95.4],y:[690,3147],xt:xTicksD,yt:yTicksD,dp:0,cap:[178,481.5],gap:22.6},
 {rows:rowsE,color:'#ff0000',box:[480.3,262.3,224,166.7],x:[84.06,95.57],y:[661,2920],xt:xTicksE,yt:yTicksE,dp:0,cap:[588.5,481.5],gap:22.6},
 {rows:rowsF,color:'#000000',box:[900.3,262.3,224,166.7],x:[84.77,95.39],y:[630,3126],xt:xTicksF,yt:yTicksF,dp:0,cap:[1006,481.5],gap:22.6},
 {rows:rowsG,color:'#00ffff',box:[274.3,520.3,224,167],x:[82.27,95.88],y:[581,2990],xt:xTicksG,yt:yTicksG,dp:0,cap:[383,739.5],gap:22.6},
 {rows:rowsH,color:'#0000ff',box:[695.7,520.3,223.6,167],x:[88.44,95.5],y:[727,3363],xt:xTicksH,yt:yTicksH,dp:0,cap:[803,739.5],gap:23}
];
const tickText={fontFamily:'DejaVu Sans',fontSize:7,color:'#555'};
const chart=echarts.init(document.getElementById('c'),null,{renderer:'canvas'});
chart.setOption({
 animation:false,backgroundColor:'#fff',
 title:panels.map((p,i)=>({text:captions[i],left:p.cap[0],top:p.cap[1],textAlign:'center',textVerticalAlign:'middle',padding:0,
   textStyle:{fontFamily:'Liberation Serif',fontSize:24,fontWeight:'normal',color:'#111'}})),
 grid:panels.map(p=>({left:p.box[0],top:p.box[1],width:p.box[2],height:p.box[3],show:true,borderColor:'#666',borderWidth:1,containLabel:false})),
 xAxis:panels.map((p,i)=>({gridIndex:i,type:'value',min:p.x[0],max:p.x[1],name:'test accuracy',nameLocation:'middle',nameGap:13,nameTextStyle:tickText,
   splitLine:{show:false},axisLine:{lineStyle:{color:'#666'},onZero:false},
   axisTick:{customValues:p.xt,length:2,lineStyle:{color:'#666',width:.7}},
   axisLabel:{customValues:p.xt,margin:3,formatter:v=>Number(v).toFixed(p.dp),...tickText,showMinLabel:true,showMaxLabel:true}})),
 yAxis:panels.map((p,i)=>({gridIndex:i,type:'value',min:p.y[0],max:p.y[1],name:'Score',nameLocation:'middle',nameGap:p.gap,nameTextStyle:tickText,
   splitLine:{show:false},axisLine:{lineStyle:{color:'#666'},onZero:false},
   axisTick:{customValues:p.yt,length:2,lineStyle:{color:'#666',width:.7}},
   axisLabel:{customValues:p.yt,margin:3,formatter:v=>String(Math.round(v)),...tickText}})),
 series:panels.map((p,i)=>({type:'scatter',xAxisIndex:i,yAxisIndex:i,symbol:'circle',symbolSize:6,silent:true,
   itemStyle:{color:p.color,opacity:1},
   data:p.rows.flatMap(r=>r.slice(1).map(a=>[a,r[0]]))}))
});
</script></body></html>
